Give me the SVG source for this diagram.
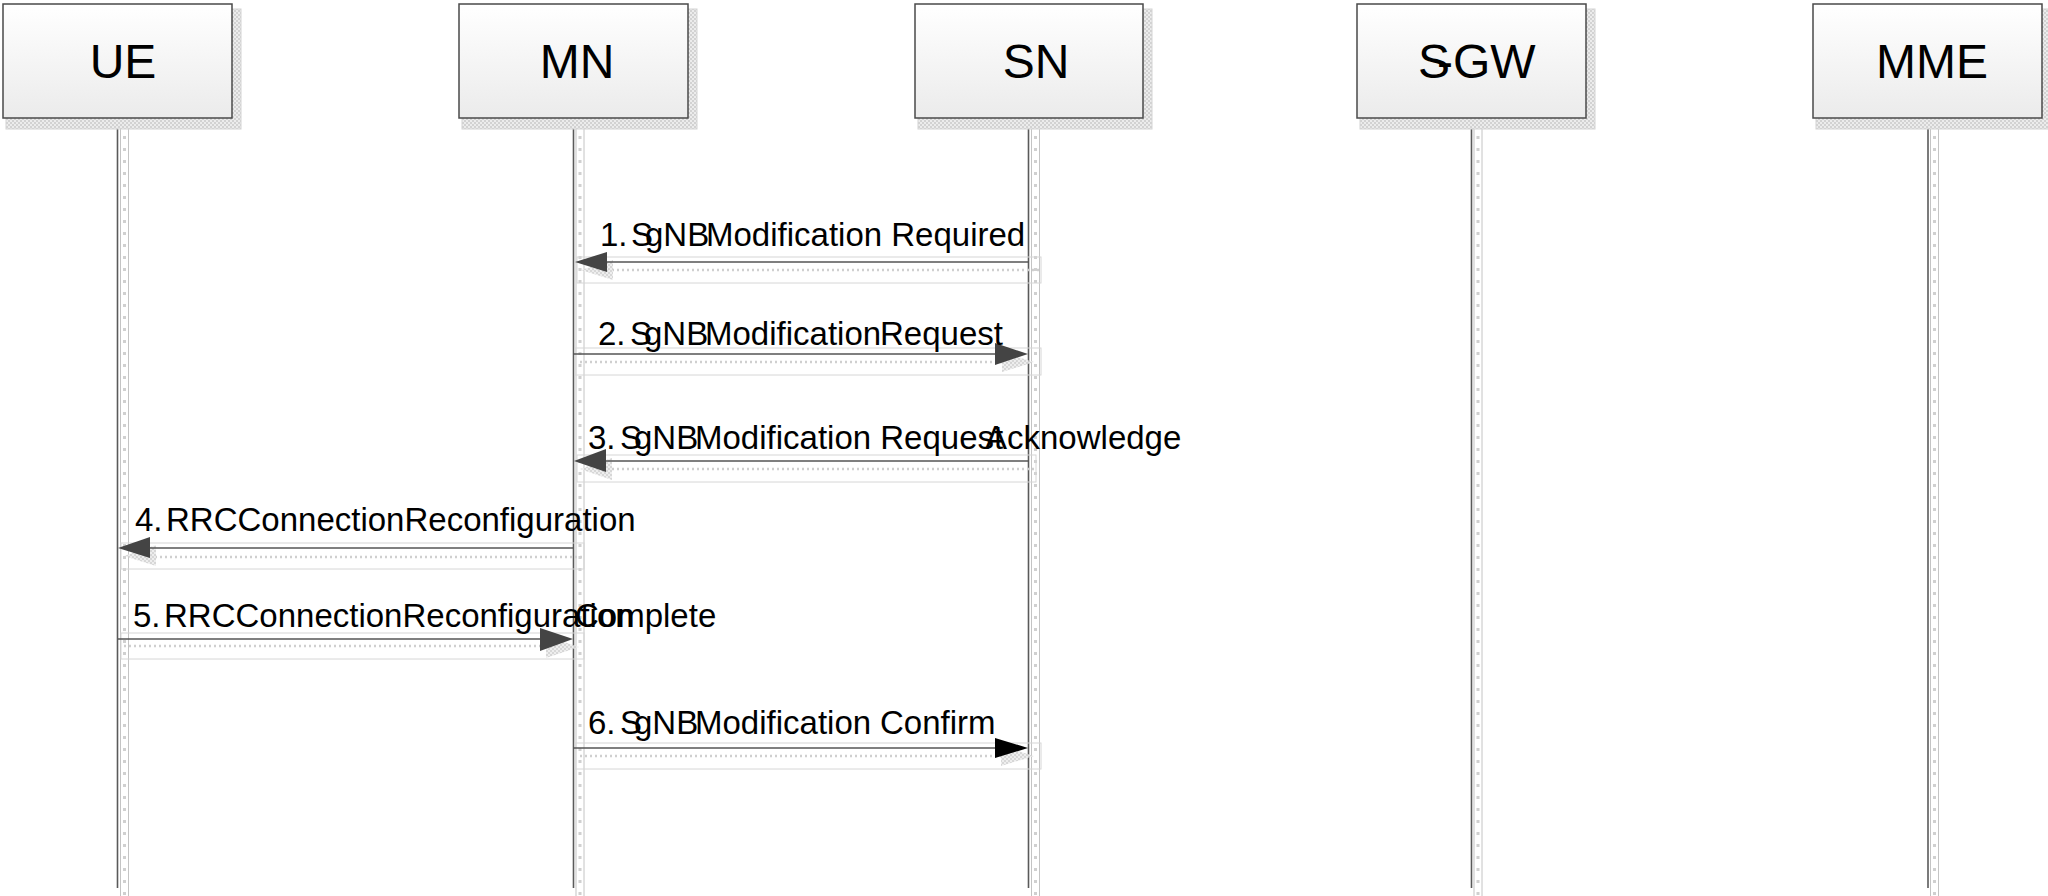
<svg xmlns="http://www.w3.org/2000/svg" width="2048" height="896" viewBox="0 0 2048 896">
<defs>
<linearGradient id="boxg" x1="0" y1="0" x2="0" y2="1">
<stop offset="0" stop-color="#ffffff"/>
<stop offset="1" stop-color="#ebebeb"/>
</linearGradient>
<pattern id="chk" width="4" height="4" patternUnits="userSpaceOnUse">
<rect width="4" height="4" fill="#ececec"/>
<rect width="2" height="2" fill="#d2d2d2"/>
<rect x="2" y="2" width="2" height="2" fill="#d2d2d2"/>
</pattern>
<style>
.box{fill:url(#boxg);stroke:#4a4a4a;stroke-width:1.5}
.bshadow{fill:url(#chk);stroke:#d4d4d4;stroke-width:1}
.title{font-family:"Liberation Sans",Arial,sans-serif;font-size:48px;fill:#000;text-anchor:middle}
.titles{font-family:"Liberation Sans",Arial,sans-serif;font-size:48px;fill:#000}
.strip{fill:#fff;stroke:#c4c4c4;stroke-width:1}
.dots{stroke:#d0d0d0;stroke-width:3;stroke-dasharray:3 9}
.life{stroke:#5a5a5a;stroke-width:1.6}
.msg{stroke:#555;stroke-width:1.5;fill:none}
.head{fill:#444}
.head6{fill:#000}
.mrect{fill:none;stroke:#d6d6d6;stroke-width:1}
.mdot{stroke:#cfcfcf;stroke-width:2.5;stroke-dasharray:2 3}
.hshadow{fill:url(#chk);opacity:0.9}
.lbl{font-family:"Liberation Sans",Arial,sans-serif;font-size:33px;fill:#000}
</style>
</defs>
<rect width="2048" height="896" fill="#fff"/>

<g id="lifelines">
<rect class="strip" x="120.5" y="118" width="8" height="780"/>
<line class="dots" x1="124.5" y1="124" x2="124.5" y2="896"/>
<rect class="strip" x="576" y="118" width="8" height="780"/>
<line class="dots" x1="580" y1="124" x2="580" y2="896"/>
<rect class="strip" x="1031.5" y="118" width="8" height="780"/>
<line class="dots" x1="1035.5" y1="124" x2="1035.5" y2="896"/>
<rect class="strip" x="1474" y="118" width="8" height="780"/>
<line class="dots" x1="1478" y1="124" x2="1478" y2="896"/>
<rect class="strip" x="1930.5" y="118" width="8" height="780"/>
<line class="dots" x1="1934.5" y1="124" x2="1934.5" y2="896"/>
<line class="life" x1="117.5" y1="118" x2="117.5" y2="888"/>
<line class="life" x1="573.5" y1="118" x2="573.5" y2="888"/>
<line class="life" x1="1028.5" y1="118" x2="1028.5" y2="888"/>
<line class="life" x1="1471.5" y1="118" x2="1471.5" y2="888"/>
<line class="life" x1="1928" y1="118" x2="1928" y2="888"/>
</g>

<g id="UE">
<rect class="bshadow" x="6" y="9" width="235" height="120"/>
<rect class="box" x="3" y="4" width="229" height="114"/>
<text class="title" x="123" y="78">UE</text>
</g>
<g id="MN">
<rect class="bshadow" x="462" y="9" width="235" height="120"/>
<rect class="box" x="459" y="4" width="229" height="114"/>
<text class="title" x="577" y="78">MN</text>
</g>
<g id="SN">
<rect class="bshadow" x="918" y="9" width="234" height="120"/>
<rect class="box" x="915" y="4" width="228" height="114"/>
<text class="title" x="1036" y="78">SN</text>
</g>
<g id="SGW">
<rect class="bshadow" x="1360" y="9" width="235" height="120"/>
<rect class="box" x="1357" y="4" width="229" height="114"/>
<text class="titles" y="78"><tspan x="1418">S</tspan><tspan x="1437">-GW</tspan></text>
</g>
<g id="MME">
<rect class="bshadow" x="1816" y="9" width="235" height="120"/>
<rect class="box" x="1813" y="4" width="229" height="114"/>
<text class="title" x="1932" y="78">MME</text>
</g>

<g id="connectors">
<!-- 1 SN -> MN -->
<rect class="mrect" x="577" y="257" width="464" height="26"/>
<line class="mdot" x1="592" y1="270" x2="1040" y2="270"/>
<polygon class="hshadow" points="581,270 613,260 613,280"/>
<line class="msg" x1="1029" y1="262" x2="600" y2="262"/>
<polygon class="head" points="575,262 607,252 607,272"/>
<!-- 2 MN -> SN -->
<rect class="mrect" x="575" y="348" width="466" height="27"/>
<line class="mdot" x1="580" y1="362" x2="1020" y2="362"/>
<polygon class="hshadow" points="1034,362 1002,352 1002,372"/>
<line class="msg" x1="573" y1="354" x2="1000" y2="354"/>
<polygon class="head" points="1028,354 995,343 995,365"/>
<!-- 3 SN -> MN -->
<rect class="mrect" x="577" y="455" width="459" height="27"/>
<line class="mdot" x1="592" y1="469" x2="1035" y2="469"/>
<polygon class="hshadow" points="580,469 612,458 612,480"/>
<line class="msg" x1="1029" y1="461" x2="600" y2="461"/>
<polygon class="head" points="574,461 606,449 606,472"/>
<!-- 4 MN -> UE -->
<rect class="mrect" x="121" y="543" width="463" height="26"/>
<line class="mdot" x1="135" y1="557" x2="584" y2="557"/>
<polygon class="hshadow" points="124,556 156,545 156,566"/>
<line class="msg" x1="573" y1="548" x2="145" y2="548"/>
<polygon class="head" points="118,548 150,537 150,558"/>
<!-- 5 UE -> MN -->
<rect class="mrect" x="121" y="633" width="463" height="26"/>
<line class="mdot" x1="124" y1="646" x2="560" y2="646"/>
<polygon class="hshadow" points="579,647 546,636 546,658"/>
<line class="msg" x1="118" y1="639" x2="545" y2="639"/>
<polygon class="head" points="573,639 540,628 540,651"/>
<!-- 6 MN -> SN -->
<rect class="mrect" x="575" y="743" width="466" height="26"/>
<line class="mdot" x1="580" y1="756" x2="1020" y2="756"/>
<polygon class="hshadow" points="1034,756 1001,746 1001,766"/>
<line class="msg" x1="573" y1="748" x2="1000" y2="748"/>
<polygon class="head6" points="1028,748 995,738 995,758"/>
</g>

<g id="labels">
<text class="lbl" y="246"><tspan x="600">1. </tspan><tspan x="631">S</tspan><tspan x="645">gNB </tspan><tspan x="706">Modification Required</tspan></text>
<text class="lbl" y="345"><tspan x="598">2. </tspan><tspan x="630">S</tspan><tspan x="644">gNB </tspan><tspan x="705">Modification</tspan><tspan x="880">Request</tspan></text>
<text class="lbl" y="449"><tspan x="588">3. </tspan><tspan x="620">S</tspan><tspan x="634">gNB </tspan><tspan x="695">Modification Request </tspan><tspan x="985">Acknowledge</tspan></text>
<text class="lbl" y="531"><tspan x="135">4. </tspan><tspan x="166">RRCConnectionReconfiguration</tspan></text>
<text class="lbl" y="627"><tspan x="133">5. </tspan><tspan x="164">RRCConnectionReconfiguration</tspan><tspan x="575">Complete</tspan></text>
<text class="lbl" y="734"><tspan x="588">6. </tspan><tspan x="620">S</tspan><tspan x="634">gNB </tspan><tspan x="695">Modification </tspan><tspan x="880">Confirm</tspan></text>
</g>
</svg>
